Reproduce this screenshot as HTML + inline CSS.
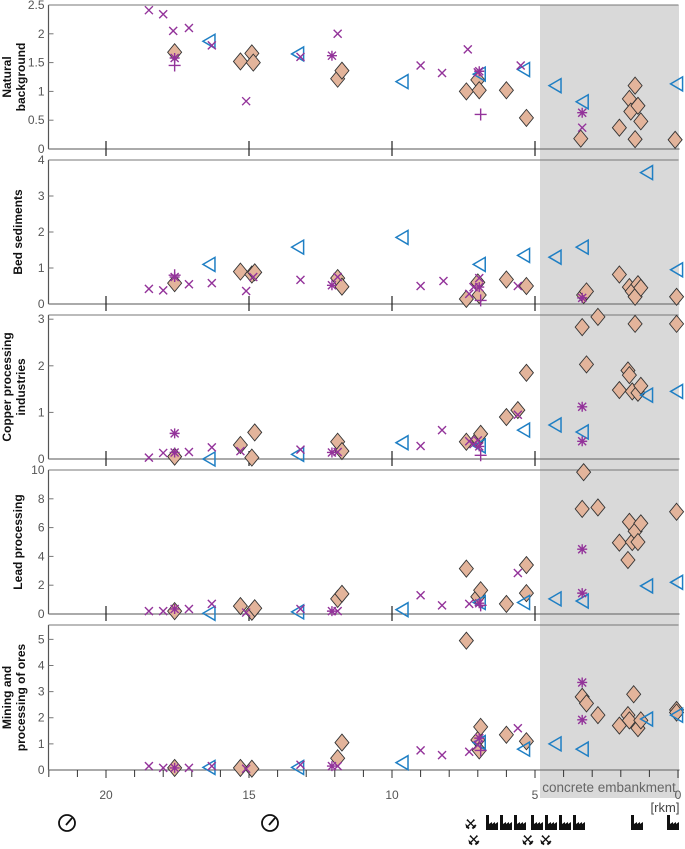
<!DOCTYPE html>
<html><head><meta charset="utf-8"><style>
body{margin:0;background:#fff;}
svg{display:block;font-family:"Liberation Sans",sans-serif;}
</style></head><body>
<svg id="chart" width="685" height="849" viewBox="0 0 685 849" xmlns="http://www.w3.org/2000/svg"></svg>
<script>
// ---- data (river km, value) ----
const panelTitles=[["Natural","background"],["Bed sediments"],["Copper processing","industries"],["Lead processing"],["Mining and","processing of ores"]];
const panelYTicks=[[0,0.5,1,1.5,2,2.5],[0,1,2,3,4],[0,1,2,3],[0,2,4,6,8,10],[0,1,2,3,4,5]];
const panelYMax=[2.5,4,3.09,10,5.55];
const xTicks=[20,15,10,5,0];

const p1Diamond=[[17.6,1.68],[15.3,1.52],[14.9,1.66],[14.85,1.5],[11.9,1.22],[11.75,1.36],[7.4,1.0],[7.0,1.2],[6.95,1.02],[6.0,1.02],[5.3,0.54],[3.4,0.18],[2.05,0.37],[1.7,0.87],[1.5,1.1],[1.65,0.65],[1.4,0.75],[1.3,0.48],[1.5,0.17],[0.1,0.16]];
const p1Cross=[[18.5,2.41],[18.0,2.34],[17.65,2.05],[17.1,2.1],[16.3,1.8],[15.1,0.83],[13.2,1.6],[11.9,2.0],[9.0,1.45],[8.25,1.32],[7.35,1.73],[7.0,1.33],[5.5,1.45],[3.35,0.37]];
const p1Star=[[17.6,1.58],[12.1,1.62],[6.95,1.35],[3.35,0.63]];
const p1Plus=[[17.6,1.45],[6.9,0.6]];
const p1Tri=[[16.4,1.87],[13.3,1.65],[9.65,1.17],[6.95,1.3],[5.4,1.38],[4.3,1.1],[3.35,0.82],[0.05,1.13]];

const p2Diamond=[[17.6,0.58],[15.3,0.9],[14.9,0.82],[14.8,0.88],[11.9,0.72],[11.75,0.48],[7.4,0.14],[7.0,0.6],[6.95,0.25],[6.0,0.68],[5.3,0.5],[3.3,0.25],[3.2,0.35],[2.05,0.82],[1.7,0.47],[1.6,0.35],[1.5,0.2],[1.4,0.55],[1.3,0.45],[0.05,0.2]];
const p2Cross=[[18.5,0.42],[18.0,0.38],[17.1,0.55],[16.3,0.58],[15.1,0.36],[14.85,0.75],[13.2,0.67],[11.9,0.75],[9.0,0.5],[8.2,0.64],[7.3,0.28],[7.15,0.47],[5.6,0.5],[6.95,0.72]];
const p2Star=[[17.6,0.75],[12.1,0.52],[6.95,0.47],[3.35,0.17]];
const p2Plus=[[17.6,0.8],[6.9,0.1]];
const p2Tri=[[16.4,1.1],[13.3,1.58],[9.65,1.85],[6.95,1.1],[5.4,1.35],[4.3,1.3],[3.35,1.58],[1.1,3.65],[0.05,0.95]];

const p3Diamond=[[17.6,0.05],[15.3,0.3],[14.9,0.03],[14.8,0.57],[11.9,0.37],[11.75,0.17],[7.4,0.37],[7.0,0.43],[6.9,0.54],[6.0,0.9],[5.6,1.05],[5.3,1.85],[3.35,2.83],[3.2,2.03],[2.8,3.05],[2.05,1.48],[1.75,1.9],[1.7,1.8],[1.6,1.45],[1.5,2.9],[1.4,1.42],[1.3,1.57],[0.05,2.9]];
const p3Cross=[[18.5,0.03],[18.0,0.13],[17.1,0.15],[16.3,0.25],[15.3,0.17],[13.2,0.2],[11.9,0.15],[9.0,0.28],[8.25,0.62],[7.3,0.38],[7.15,0.32],[5.6,0.95],[7.0,0.4]];
const p3Star=[[17.6,0.55],[17.6,0.14],[12.1,0.14],[6.95,0.27],[3.35,1.12],[3.35,0.38]];
const p3Plus=[[6.9,0.08]];
const p3Tri=[[16.4,0.0],[13.3,0.1],[9.65,0.35],[6.95,0.28],[5.4,0.62],[4.3,0.73],[3.35,0.58],[1.1,1.37],[0.05,1.45]];

const p4Diamond=[[17.6,0.2],[15.3,0.55],[14.9,0.15],[14.8,0.4],[11.9,1.05],[11.75,1.4],[7.4,3.15],[7.0,1.2],[6.9,1.65],[6.0,0.7],[5.3,1.45],[5.3,3.4],[3.3,9.85],[3.35,7.3],[2.8,7.4],[2.05,4.95],[1.75,3.75],[1.7,6.4],[1.6,5.0],[1.5,5.75],[1.4,5.0],[1.3,6.3],[0.05,7.1]];
const p4Cross=[[18.5,0.2],[18.0,0.2],[17.1,0.35],[16.3,0.7],[15.1,0.1],[13.2,0.35],[11.9,0.2],[9.0,1.3],[8.25,0.6],[7.3,0.7],[5.6,2.85]];
const p4Star=[[17.6,0.35],[12.1,0.2],[6.95,0.75],[3.35,4.5],[3.35,1.45]];
const p4Plus=[[6.9,0.6]];
const p4Tri=[[16.4,0.05],[13.3,0.15],[9.65,0.3],[6.95,0.8],[5.4,0.8],[4.3,1.05],[3.35,0.9],[1.1,1.95],[0.05,2.2]];

const p5Diamond=[[17.6,0.08],[15.3,0.08],[14.9,0.05],[11.9,0.45],[11.75,1.05],[7.4,4.95],[7.0,1.15],[6.9,1.65],[6.95,0.75],[6.0,1.35],[5.3,1.1],[3.35,2.8],[3.2,2.55],[2.8,2.1],[2.05,1.7],[1.75,2.1],[1.7,1.9],[1.55,2.9],[1.4,1.6],[1.3,1.9],[0.05,2.3],[0.05,2.2]];
const p5Cross=[[18.5,0.15],[18.0,0.08],[17.1,0.08],[16.3,0.15],[15.1,0.05],[13.2,0.2],[11.9,0.15],[9.0,0.75],[8.25,0.57],[7.3,0.7],[5.6,1.6],[7.0,0.95]];
const p5Star=[[17.6,0.08],[12.1,0.15],[6.95,1.22],[3.35,3.35],[3.35,1.92]];
const p5Plus=[[6.9,0.75]];
const p5Tri=[[16.4,0.1],[13.3,0.1],[9.65,0.28],[6.95,1.05],[5.4,0.8],[4.3,1.0],[3.35,0.8],[1.1,1.95],[0.05,2.1]];

const panelDiamonds=[p1Diamond,p2Diamond,p3Diamond,p4Diamond,p5Diamond];
const panelCrosses=[p1Cross,p2Cross,p3Cross,p4Cross,p5Cross];
const panelStars=[p1Star,p2Star,p3Star,p4Star,p5Star];
const panelPluses=[p1Plus,p2Plus,p3Plus,p4Plus,p5Plus];
const panelTris=[p1Tri,p2Tri,p3Tri,p4Tri,p5Tri];

// ---- layout ----
const svg=document.getElementById('chart');
const NS='http://www.w3.org/2000/svg';
const L=48.5,R=678.5;
const panelTop=[5,160,315,470,625];
const panelBottom=[149,304,459,614,770];
function xs(v){return 106+(20-v)*28.6;}
function mk(tag,attrs,parent){const e=document.createElementNS(NS,tag);for(const k in attrs)e.setAttribute(k,attrs[k]);(parent||svg).appendChild(e);return e;}

const bg=mk('rect',{x:540,y:5,width:139,height:793,fill:'#d9d9d9'});


const ce=mk('text',{x:609,y:792,'text-anchor':'middle','font-size':13.5,fill:'#666'});
ce.textContent='concrete embankment';



const PURPLE='#93339a',BLUE='#1f7fc4';
for(let p=0;p<5;p++){
  const g=mk('g',{});
  
  
  const top=panelTop[p],bot=panelBottom[p],ymax=panelYMax[p];
  const ys=v=>bot-(v/ymax)*(bot-top);
  mk('line',{x1:L,y1:top,x2:L,y2:bot,stroke:'#555','stroke-width':1.2},g);
  mk('line',{x1:L,y1:top,x2:R,y2:top,stroke:'#777','stroke-width':1},g);
  mk('line',{x1:L,y1:bot,x2:R+1,y2:bot,stroke:'#777','stroke-width':1.3},g);
  panelYTicks[p].forEach(t=>{
    const y=ys(t);
    mk('line',{x1:L,y1:y,x2:L+5,y2:y,stroke:'#777'},g);
    const tx=mk('text',{x:L-4,y:y+4,'text-anchor':'end','font-size':12,fill:'#555'},g);
    tx.textContent=t;
    
    
  });
  if(p<4){
    [20,15,10,5].forEach(t=>mk('line',{x1:xs(t),y1:bot-8,x2:xs(t),y2:bot+7,stroke:'#222','stroke-width':1.2},g));
  } else {
    for(let k=22;k>=0;k--){const x=xs(k);mk('line',{x1:x,y1:bot,x2:x,y2:bot+(k%5==0?8:7),stroke:'#333'},g);}
    xTicks.forEach(t=>{const tx=mk('text',{x:xs(t),y:799,'text-anchor':'middle','font-size':12,fill:'#555'},g);tx.textContent=t;
      });
  }
  const lines=panelTitles[p];
  const cy=(top+bot)/2;
  const tt=mk('text',{transform:`translate(${lines.length==1?18:11},${cy}) rotate(-90)`,'text-anchor':'middle','font-size':12,'font-weight':'bold',fill:'#111'},g);
  
  
  lines.forEach((s,i)=>{const ts=mk('tspan',{x:0,dy:i==0?(lines.length==1?4:0):14},tt);ts.textContent=s;});
  panelDiamonds[p].forEach(d=>{const x=xs(d[0]),y=ys(d[1]);
    const m=mk('path',{d:`M${x} ${y-8.5}L${x+7} ${y}L${x} ${y+8.5}L${x-7} ${y}Z`,fill:'#e3b49b',stroke:'#333','stroke-width':0.9},g);
    });
  panelTris[p].forEach(d=>{const x=xs(d[0]),y=ys(d[1]);
    const m=mk('path',{d:`M${x-6} ${y}L${x+6} ${y-7}L${x+6} ${y+7}Z`,fill:'none',stroke:BLUE,'stroke-width':1.5},g);
    });
  panelCrosses[p].forEach(d=>{const x=xs(d[0]),y=ys(d[1]);
    const m=mk('path',{d:`M${x-4} ${y-4}L${x+4} ${y+4}M${x-4} ${y+4}L${x+4} ${y-4}`,stroke:PURPLE,'stroke-width':1.4},g);
    });
  panelStars[p].forEach(d=>{const x=xs(d[0]),y=ys(d[1]);
    const m=mk('path',{d:`M${x-5} ${y}L${x+5} ${y}M${x} ${y-5}L${x} ${y+5}M${x-4} ${y-4}L${x+4} ${y+4}M${x-4} ${y+4}L${x+4} ${y-4}`,stroke:PURPLE,'stroke-width':1.4},g);
    });
  panelPluses[p].forEach(d=>{const x=xs(d[0]),y=ys(d[1]);
    const m=mk('path',{d:`M${x-6} ${y}L${x+6} ${y}M${x} ${y-6}L${x} ${y+6}`,stroke:PURPLE,'stroke-width':1.4},g);
    });
}
const rk=mk('text',{x:665,y:812,'text-anchor':'middle','font-size':13,fill:'#444'});
rk.textContent='[rkm]';



[67,270].forEach(x=>{const g=mk('g',{});
  
  mk('circle',{cx:x,cy:823,r:8,fill:'none',stroke:'#111','stroke-width':1.8},g);
  mk('line',{x1:x-1,y1:825,x2:x+5,y2:818,stroke:'#111','stroke-width':1.8},g);});
function factory(x){const g=mk('g',{});
  
  mk('path',{d:`M${x} 830L${x} 815L${x+3} 815L${x+3} 824L${x+6} 822L${x+6} 824L${x+9} 822L${x+9} 824L${x+12} 822L${x+12} 830Z`,fill:'#111'},g);}
[486,500,514,531,545,559,573,631,667].forEach(factory);
[[471,829],[474,845],[528,845],[546,845]].forEach(p=>{const t=mk('text',{x:p[0],y:p[1],'text-anchor':'middle','font-size':14,fill:'#111','font-family':'DejaVu Sans',transform:`rotate(180 ${p[0]} ${p[1]-5})`});
  t.textContent='⚒';});
</script>
</body></html>
